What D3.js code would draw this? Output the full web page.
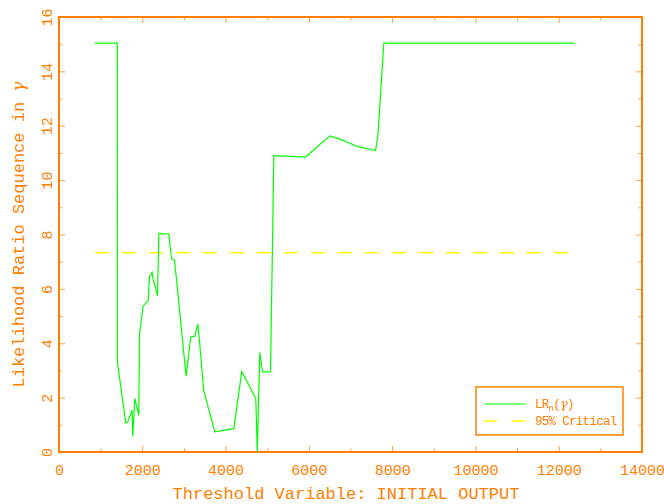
<!DOCTYPE html>
<html>
<head>
<meta charset="utf-8">
<script src="https://cdn.jsdelivr.net/npm/d3@7"></script>
<style>
  body { margin: 0; background: #fff; }
  text { font-family: "Liberation Mono", "DejaVu Sans Mono", monospace; fill: #ff8000; }
</style>
</head>
<body>
<svg id="chart"></svg>
<script>
// threshold values (x) and LR statistic (y)
const thresholdX = [860, 1400, 1405, 1604, 1645, 1755, 1772, 1820, 1916, 1933, 2020, 2140, 2173, 2205,
  2236, 2253, 2366, 2397, 2637, 2702, 2774, 3052, 3165, 3268, 3293, 3333, 3365, 3477, 3742, 4198,
  4390, 4726, 4762, 4822, 4887, 5079, 5159, 5920, 6503, 6744, 7183, 7601, 7649, 7656, 7800, 12375];
const lrValues = [15.04, 15.04, 3.27, 1.07, 1.09, 1.54, 0.58, 1.97, 1.35, 4.33, 5.37, 5.56, 6.47, 6.51,
  6.61, 6.41, 5.75, 8.04, 8.01, 7.11, 7.06, 2.79, 4.24, 4.26, 4.46, 4.70, 4.24, 2.25, 0.74, 0.86,
  2.96, 1.97, 0.0, 3.66, 2.95, 2.95, 10.90, 10.85, 11.63, 11.51, 11.23, 11.09, 11.54, 11.59, 15.04, 15.04];
const criticalValue = 7.33;
const xTicks = [0, 2000, 4000, 6000, 8000, 10000, 12000, 14000];
const yTicks = [0, 2, 4, 6, 8, 10, 12, 14, 16];

const width = 664, height = 504;
const margin = { top: 17, right: 22, bottom: 52, left: 59 };
const orange = "#ff8000";

const svg = d3.select("#chart").attr("width", width).attr("height", height);

const x = d3.scaleLinear().domain([0, 14000]).range([margin.left, width - margin.right]);
const y = d3.scaleLinear().domain([0, 16]).range([height - margin.bottom, margin.top]);

const minorX = d3.range(0, 14001, 1000);
const minorY = d3.range(0, 17, 1);

// axes with inward ticks on all four sides
function styleTicks(g, majors) {
  g.select(".domain").remove();
  g.selectAll(".tick line").attr("stroke", orange).attr("stroke-width", 1)
    .attr("opacity", 0.75);
  g.selectAll(".tick").filter(d => !majors.includes(d)).select("line")
    .each(function() {
      const l = d3.select(this);
      if (l.attr("y2") !== null) l.attr("y2", +l.attr("y2") * 0.6);
      if (l.attr("x2") !== null) l.attr("x2", +l.attr("x2") * 0.6);
    });
}

const gx = svg.append("g").attr("transform", `translate(0,${y(0)})`)
  .call(d3.axisBottom(x).tickValues(minorX).tickSize(-6).tickPadding(9)
    .tickFormat(d => xTicks.includes(d) ? d : ""));
styleTicks(gx, xTicks);
gx.selectAll("text").style("font-size", "15px").attr("fill", orange).attr("dy", "0.9em");

const gxTop = svg.append("g").attr("transform", `translate(0,${y(16)})`)
  .call(d3.axisTop(x).tickValues(minorX).tickSize(-6).tickFormat(""));
styleTicks(gxTop, xTicks);

const gy = svg.append("g").attr("transform", `translate(${x(0)},0)`)
  .call(d3.axisLeft(y).tickValues(minorY).tickSize(-6)
    .tickFormat(d => yTicks.includes(d) ? d : ""));
styleTicks(gy, yTicks);
gy.selectAll("text")
  .attr("x", 0).attr("dy", "0.35em")
  .attr("text-anchor", "middle")
  .attr("transform", "translate(-12,0) rotate(-90)")
  .style("font-size", "15px").attr("fill", orange);

const gyRight = svg.append("g").attr("transform", `translate(${x(14000)},0)`)
  .call(d3.axisRight(y).tickValues(minorY).tickSize(-6).tickFormat(""));
styleTicks(gyRight, yTicks);

// frame
svg.append("rect")
  .attr("x", x(0)).attr("y", y(16))
  .attr("width", x(14000) - x(0)).attr("height", y(0) - y(16))
  .attr("fill", "none").attr("stroke", orange).attr("stroke-width", 2);

// 95% critical value
svg.append("line")
  .attr("x1", x(thresholdX[0])).attr("x2", x(thresholdX[thresholdX.length - 1]))
  .attr("y1", y(criticalValue)).attr("y2", y(criticalValue))
  .attr("stroke", "#ffff00").attr("stroke-width", 1.6)
  .attr("stroke-dasharray", "14,13");

// LR sequence
const line = d3.line().x((d, i) => x(thresholdX[i])).y(d => y(d));
svg.append("path")
  .datum(lrValues)
  .attr("d", line)
  .attr("fill", "none").attr("stroke", "#00ff00").attr("stroke-width", 1.2);

// axis titles
svg.append("text")
  .attr("x", 346).attr("y", 499)
  .attr("text-anchor", "middle")
  .style("font-size", "17px")
  .text("Threshold Variable: INITIAL OUTPUT");

const yTitle = svg.append("text")
  .attr("transform", `translate(24,${(y(0) + y(16)) / 2}) rotate(-90)`)
  .attr("text-anchor", "middle")
  .style("font-size", "17px");
yTitle.append("tspan").text("Likelihood Ratio Sequence in ");
yTitle.append("tspan").style("font-family", "'DejaVu Serif', serif").style("font-style", "italic").text("γ");

// legend
const legend = svg.append("g").attr("transform", "translate(476,387)");
legend.append("rect").attr("width", 147).attr("height", 48)
  .attr("fill", "#fff").attr("stroke", orange).attr("stroke-width", 1.5);
legend.append("line").attr("x1", 8).attr("x2", 50).attr("y1", 17).attr("y2", 17)
  .attr("stroke", "#00ff00").attr("stroke-width", 1.2);
legend.append("line").attr("x1", 8).attr("x2", 50).attr("y1", 34).attr("y2", 34)
  .attr("stroke", "#ffff00").attr("stroke-width", 1.6).attr("stroke-dasharray", "13,15");
const lrLabel = legend.append("text").attr("x", 59).attr("y", 21)
  .style("font-size", "12.5px").style("letter-spacing", "-0.7px");
lrLabel.append("tspan").text("LR");
lrLabel.append("tspan").attr("dy", 3).style("font-size", "9px").text("n");
lrLabel.append("tspan").attr("dy", -3).text("(");
lrLabel.append("tspan").style("font-family", "'DejaVu Serif', serif").style("font-style", "italic").text("γ");
lrLabel.append("tspan").text(")");
legend.append("text").attr("x", 59).attr("y", 38)
  .style("font-size", "12.5px").style("letter-spacing", "-0.7px").text("95% Critical");
</script>
</body>
</html>
